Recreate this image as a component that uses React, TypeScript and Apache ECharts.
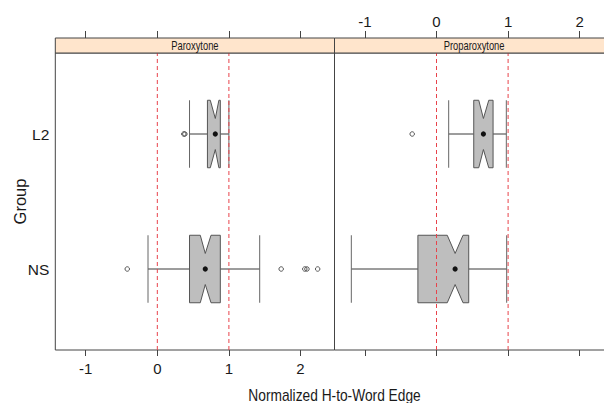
import React, { useEffect, useRef } from "react";
import * as echarts from "echarts";

// ---- data ----
const PANELS = ["Paroxytone", "Proparoxytone"];
const GROUPS = ["NS", "L2"]; // y positions 1, 2
const GROUP_POS = [1, 2];
// [whiskerLow, q1, notchLow, median, notchHigh, q3, whiskerHigh]
const PAROX_NS = [-0.13, 0.45, 0.6, 0.67, 0.75, 0.88, 1.43];
const PAROX_L2 = [0.45, 0.7, 0.74, 0.81, 0.86, 0.88, 1.0];
const PROPAROX_NS = [-1.19, -0.26, 0.15, 0.26, 0.37, 0.45, 0.98];
const PROPAROX_L2 = [0.17, 0.52, 0.59, 0.655, 0.73, 0.79, 0.975];
const PAROX_NS_OUT = [-0.42, 1.73, 2.06, 2.09, 2.24];
const PAROX_L2_OUT = [0.37, 0.385];
const PROPAROX_NS_OUT: number[] = [];
const PROPAROX_L2_OUT = [-0.34];
const X_TICKS = [-1, 0, 1, 2];
const REF_LINES = [0, 1];
const X_MIN = -1.425;
const X_MAX = 2.475;
const Y_MIN = 0.4;
const Y_MAX = 2.6;
const X_TITLE = "Normalized H-to-Word Edge";
const Y_TITLE = "Group";

// ---- layout ----
const W = 604;
const H = 403;
const CANVAS_W = 624; // panel 2 runs past the right edge of the picture
const PANEL_LEFT = 55.3;
const PANEL_W = 279.2;
const PLOT_TOP = 53;
const PLOT_BOTTOM = 350;
const STRIP_H = 15;
const BOX_H = 0.5;
const NOTCH_DEPTH = 0.27;
const FONT = "'Liberation Sans', Arial, sans-serif";
const LINE = "#444";
const TEXT = "#1a1a1a";
const RED = "#e8434b";

const boxData = [
  [
    [GROUP_POS[0], ...PAROX_NS],
    [GROUP_POS[1], ...PAROX_L2],
  ],
  [
    [GROUP_POS[0], ...PROPAROX_NS],
    [GROUP_POS[1], ...PROPAROX_L2],
  ],
];
const outData = [
  [
    ...PAROX_NS_OUT.map((v) => [v, GROUP_POS[0]]),
    ...PAROX_L2_OUT.map((v) => [v, GROUP_POS[1]]),
  ],
  [
    ...PROPAROX_NS_OUT.map((v) => [v, GROUP_POS[0]]),
    ...PROPAROX_L2_OUT.map((v) => [v, GROUP_POS[1]]),
  ],
];

function renderBox(params: any, api: any) {
  const yv = api.value(0);
  const wLo = api.value(1);
  const q1 = api.value(2);
  const nLo = api.value(3);
  const med = api.value(4);
  const nHi = api.value(5);
  const q3 = api.value(6);
  const wHi = api.value(7);
  const X = (v: number) => api.coord([v, yv])[0];
  const cy = api.coord([med, yv])[1];
  const h = Math.abs(api.size([0, BOX_H])[1]);
  const top = cy - h / 2;
  const bot = cy + h / 2;
  const d = h * NOTCH_DEPTH;
  const ln = (x1: number, y1: number, x2: number, y2: number, c: string) => ({
    type: "line",
    shape: { x1, y1, x2, y2 },
    style: { stroke: c, lineWidth: 1 },
  });
  return {
    type: "group",
    children: [
      ln(X(wLo), cy, X(q1), cy, "#3a3a3a"),
      ln(X(q3), cy, X(wHi), cy, "#3a3a3a"),
      ln(X(wLo), top, X(wLo), bot, "#666"),
      ln(X(wHi), top, X(wHi), bot, "#666"),
      {
        type: "polygon",
        shape: {
          points: [
            [X(q1), top],
            [X(nLo), top],
            [X(med), top + d],
            [X(nHi), top],
            [X(q3), top],
            [X(q3), bot],
            [X(nHi), bot],
            [X(med), bot - d],
            [X(nLo), bot],
            [X(q1), bot],
          ],
        },
        style: { fill: "#bebebe", stroke: "#555", lineWidth: 1 },
      },
      {
        type: "circle",
        shape: { cx: X(med), cy, r: 2.6 },
        style: { fill: "#111" },
      },
    ],
  };
}

function renderRef(params: any, api: any) {
  const v = api.value(0);
  const p1 = api.coord([v, Y_MIN]);
  const p2 = api.coord([v, Y_MAX]);
  return {
    type: "line",
    shape: { x1: p1[0], y1: p1[1], x2: p2[0], y2: p2[1] },
    style: { stroke: RED, lineWidth: 1, lineDash: [4, 3] },
  };
}

export default function App() {
  const ref = useRef<HTMLDivElement>(null);
  useEffect(() => {
    document.body.style.margin = "0";
    document.body.style.overflow = "hidden";
    document.documentElement.style.overflow = "hidden";
    if (!ref.current) return;
    const chart = echarts.init(ref.current, undefined, { renderer: "svg" });
    const grids = PANELS.map((_, i) => ({
      left: PANEL_LEFT + i * PANEL_W,
      top: PLOT_TOP,
      width: PANEL_W,
      height: PLOT_BOTTOM - PLOT_TOP,
      show: true,
      borderColor: LINE,
      borderWidth: 1,
      containLabel: false,
    }));
    const xAxes: any[] = [];
    PANELS.forEach((_, i) => {
      xAxes.push({
        type: "value",
        gridIndex: i,
        position: "bottom",
        min: X_MIN,
        max: X_MAX,
        axisLine: { show: false },
        splitLine: { show: false },
        axisTick: {
          show: true,
          customValues: X_TICKS,
          length: 6,
          lineStyle: { color: LINE },
        },
        axisLabel: {
          show: i === 0,
          customValues: X_TICKS,
          margin: 11,
          fontSize: 15,
          fontFamily: FONT,
          color: TEXT,
        },
      });
      xAxes.push({
        type: "value",
        gridIndex: i,
        position: "top",
        offset: STRIP_H,
        min: X_MIN,
        max: X_MAX,
        axisLine: { show: false },
        splitLine: { show: false },
        axisTick: {
          show: true,
          customValues: X_TICKS,
          length: 7,
          lineStyle: { color: LINE },
        },
        axisLabel: {
          show: i === 1,
          customValues: X_TICKS,
          margin: 9,
          fontSize: 15,
          fontFamily: FONT,
          color: TEXT,
        },
      });
    });
    const yAxes = PANELS.map((_, i) => ({
      type: "value",
      gridIndex: i,
      min: Y_MIN,
      max: Y_MAX,
      axisLine: { show: false },
      splitLine: { show: false },
      axisTick: { show: false },
      axisLabel: {
        show: i === 0,
        customValues: GROUP_POS,
        formatter: (v: number) => GROUPS[GROUP_POS.indexOf(v)] ?? "",
        margin: 6,
        fontSize: 15.5,
        fontFamily: FONT,
        color: TEXT,
      },
    }));
    const series: any[] = [];
    PANELS.forEach((_, i) => {
      series.push({
        type: "custom",
        xAxisIndex: i * 2,
        yAxisIndex: i,
        renderItem: renderBox,
        data: boxData[i],
        encode: { x: [1, 2, 3, 4, 5, 6, 7], y: 0 },
        clip: false,
        silent: true,
        z: 2,
      });
      series.push({
        type: "scatter",
        xAxisIndex: i * 2,
        yAxisIndex: i,
        data: outData[i],
        symbol: "circle",
        symbolSize: 4.5,
        itemStyle: { color: "rgba(0,0,0,0)", borderColor: "#333", borderWidth: 1 },
        silent: true,
        z: 3,
      });
      series.push({
        type: "custom",
        xAxisIndex: i * 2,
        yAxisIndex: i,
        renderItem: renderRef,
        data: REF_LINES.map((v) => [v]),
        encode: { x: 0 },
        silent: true,
        z: 4,
      });
    });
    const graphics: any[] = [];
    PANELS.forEach((name, i) => {
      graphics.push({
        type: "rect",
        shape: {
          x: PANEL_LEFT + i * PANEL_W,
          y: PLOT_TOP - STRIP_H,
          width: PANEL_W,
          height: STRIP_H,
        },
        style: { fill: "#ffe5cc", stroke: LINE, lineWidth: 1 },
        z: 10,
      });
      graphics.push({
        type: "text",
        x: PANEL_LEFT + i * PANEL_W + PANEL_W / 2,
        y: PLOT_TOP - STRIP_H / 2 + 0.5,
        scaleX: 0.78,
        style: {
          text: name,
          fontSize: 12,
          fontFamily: FONT,
          fill: TEXT,
          align: "center",
          verticalAlign: "middle",
          textAlign: "center",
          textVerticalAlign: "middle",
        },
        z: 11,
      });
    });
    graphics.push({
      type: "text",
      x: PANEL_LEFT + PANEL_W,
      y: 395,
      scaleX: 0.86,
      style: {
        text: X_TITLE,
        fontSize: 16,
        fontFamily: FONT,
        fill: TEXT,
        align: "center",
        verticalAlign: "middle",
        textAlign: "center",
        textVerticalAlign: "middle",
      },
    });
    graphics.push({
      type: "text",
      x: 20,
      y: (PLOT_TOP + PLOT_BOTTOM) / 2,
      rotation: Math.PI / 2,
      style: {
        text: Y_TITLE,
        fontSize: 16.5,
        fontFamily: FONT,
        fill: TEXT,
        align: "center",
        verticalAlign: "middle",
        textAlign: "center",
        textVerticalAlign: "middle",
      },
    });
    chart.setOption({
      animation: false,
      backgroundColor: "#ffffff",
      grid: grids,
      xAxis: xAxes,
      yAxis: yAxes,
      series,
      graphic: graphics,
    });
    return () => chart.dispose();
  }, []);
  return <div ref={ref} style={{ width: CANVAS_W, height: H }} />;
}
